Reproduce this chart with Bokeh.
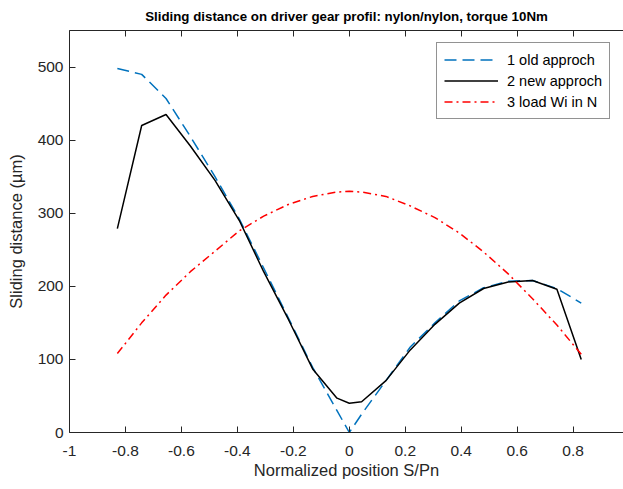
from bokeh.plotting import figure
from bokeh.models import FixedTicker, CustomJSTickFormatter, LinearAxis, Range1d
from bokeh.embed import file_html
from bokeh.resources import INLINE

# ---- data ----
x_pos = [-0.829, -0.742, -0.655, -0.568, -0.480, -0.393, -0.306, -0.218, -0.131, -0.044, 0.0,
         0.044, 0.131, 0.218, 0.306, 0.393, 0.480, 0.568, 0.655, 0.742, 0.829]
old_approach = [498, 490, 457, 405, 350, 292, 225, 157, 89, 30, 0,
                25, 71, 117, 150, 180, 198, 207, 208, 197, 177]
new_approach = [279, 420, 435, 392, 345, 290, 220, 155, 87, 47, 40,
                42, 71, 113, 148, 177, 197, 206, 208, 196, 100]
load_wi = [108, 150, 188, 220, 248, 276, 296, 312, 323, 329, 330,
           329, 323, 310, 294, 273, 247, 217, 183, 147, 107]

x_ticks = [-1, -0.8, -0.6, -0.4, -0.2, 0, 0.2, 0.4, 0.6, 0.8]
y_ticks = [0, 100, 200, 300, 400, 500]

FONT = "Liberation Sans"
AX = "#262626"

p = figure(width=623, height=489, x_range=Range1d(-1, 0.98), y_range=Range1d(0, 550),
           output_backend="svg", toolbar_location=None,
           min_border_left=69, min_border_right=0, min_border_top=10, min_border_bottom=57,
           title="Sliding distance on driver gear profil: nylon/nylon, torque 10Nm")

p.title.text_font = FONT
p.title.text_font_size = "13.3px"
p.title.text_font_style = "bold"
p.title.text_color = "#000000"
p.title.align = "center"
p.title.standoff = 13

p.grid.visible = False
p.outline_line_color = None
p.background_fill_color = "white"
p.border_fill_color = "white"

fmt = CustomJSTickFormatter(code="return tick.toFixed(1).replace(/\\.0$/, '');")
blank = CustomJSTickFormatter(code="return '';")

for ax in p.xaxis:
    ax.ticker = FixedTicker(ticks=x_ticks)
    ax.formatter = fmt
    ax.axis_label = "Normalized position S/Pn"
for ax in p.yaxis:
    ax.ticker = FixedTicker(ticks=y_ticks)
    ax.axis_label = "Sliding distance (\u00b5m)"

for ax in p.xaxis + p.yaxis:
    ax.major_tick_in = 6
    ax.major_tick_out = 0
    ax.minor_tick_line_color = None
    ax.axis_line_color = AX
    ax.major_tick_line_color = AX
    ax.major_label_text_color = AX
    ax.major_label_text_font = FONT
    ax.major_label_text_font_size = "15.5px"
    ax.axis_label_text_font = FONT
    ax.axis_label_text_font_size = "16.5px"
    ax.axis_label_text_font_style = "normal"
    ax.axis_label_text_color = AX

p.xaxis.major_label_standoff = 13
p.xaxis.axis_label_standoff = 2
p.yaxis.major_label_standoff = 6
p.yaxis.axis_label_standoff = 10

top = LinearAxis(ticker=FixedTicker(ticks=x_ticks), formatter=blank)
top.major_tick_in = 6
top.major_tick_out = 0
top.minor_tick_line_color = None
top.axis_line_color = AX
top.major_tick_line_color = AX
top.major_label_text_font_size = "1px"
top.major_label_standoff = 0
p.add_layout(top, "above")

p.line(x_pos, old_approach, line_color="#0072BD", line_width=1.5, line_dash="12 6",
       legend_label="1 old approch")
p.line(x_pos, new_approach, line_color="#000000", line_width=1.5,
       legend_label="2 new approch")
p.line(x_pos, load_wi, line_color="#FF0000", line_width=1.5, line_dash="8 4 2 4",
       legend_label="3 load Wi in N")

lg = p.legend[0]
lg.location = (367, 313)
lg.label_text_font = FONT
lg.label_text_font_size = "14.5px"
lg.label_text_color = "#000000"
lg.border_line_color = AX
lg.border_line_width = 1
lg.background_fill_alpha = 1
lg.padding = 7
lg.spacing = 2
lg.label_height = 19
lg.glyph_height = 19
lg.glyph_width = 54
lg.label_standoff = 9
lg.margin = 0

open("out.html", "w").write(file_html(p, INLINE))
